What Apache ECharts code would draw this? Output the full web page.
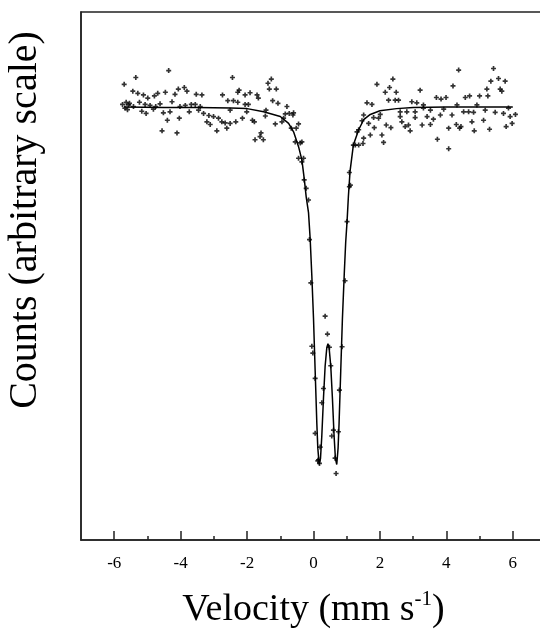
<!DOCTYPE html>
<html lang="en">
  <head>
    <meta charset="utf-8">
    <title>Velocity spectrum</title>
    <script src="https://cdn.jsdelivr.net/npm/echarts@6/dist/echarts.min.js"></script>
    <style>
      html, body { margin: 0; padding: 0; background: #fff; }
      #chart { width: 540px; height: 629px; }
    </style>
  </head>
  <body>
    <div id="chart"></div>

    <script>
      // tick labels on the velocity axis
      var majorTicks = [-6, -4, -2, 0, 2, 4, 6];
      var minorTicks = [-5, -3, -1, 1, 3, 5];

      // measured counts, [velocity, counts]
      var measuredLeft = [
        [-5.75,82.5],[-5.70,86.3],[-5.68,81.8],[-5.64,82.9],[-5.60,81.5],[-5.57,82.4],[-5.54,82.7],
        [-5.44,85.0],[-5.42,82.1],[-5.35,87.6],[-5.29,84.6],[-5.24,82.9],[-5.17,81.2],[-5.12,84.3],
        [-5.07,82.5],[-5.04,80.8],[-4.99,83.7],[-4.92,82.3],[-4.82,81.6],[-4.79,84.1],[-4.75,82.1],
        [-4.69,84.6],[-4.62,82.6],[-4.56,77.5],[-4.52,80.9],[-4.46,84.8],[-4.40,79.5],[-4.36,88.9],
        [-4.32,81.1],[-4.26,83.0],[-4.17,84.4],[-4.11,77.1],[-4.07,85.4],[-4.04,79.9],[-4.02,82.1],
        [-3.89,85.7],[-3.86,82.3],[-3.81,85.0],[-3.74,81.1],[-3.68,82.5],[-3.56,82.5],[-3.53,84.4],
        [-3.46,81.4],[-3.41,82.1],[-3.36,84.3],[-3.31,80.8],[-3.21,79.2],[-3.15,80.4],[-3.11,78.7],
        [-3.01,80.2],[-2.91,77.5]
      ];
      var measuredShoulder = [
        [-2.86,79.9],[-2.76,79.2],[-2.74,84.3],[-2.66,79.0],[-2.61,78.0],[-2.58,83.2],[-2.51,81.4],
        [-2.51,78.9],[-2.44,87.6],[-2.41,83.2],[-2.34,79.2],[-2.28,84.8],[-2.28,82.9],[-2.24,85.2],
        [-2.14,79.9],[-2.06,84.3],[-2.06,82.5],[-2.01,81.1],[-1.96,82.5],[-1.91,84.7],[-1.84,79.5],
        [-1.78,79.2],[-1.76,75.8],[-1.70,84.3],[-1.66,83.7],[-1.61,76.4],[-1.58,77.1],[-1.51,75.8],
        [-1.45,80.3],[-1.43,81.4],[-1.37,86.5],[-1.33,85.4],[-1.27,87.3],[-1.23,83.2],[-1.15,78.8],
        [-1.12,85.4],[-1.07,82.7],[-0.95,79.2],[-0.90,79.9],[-0.85,80.7],[-0.80,82.1],[-0.73,80.8],
        [-0.67,78.0],[-0.62,80.5],[-0.60,80.9],[-0.55,75.4],[-0.52,78.0],[-0.45,78.8],[-0.35,75.4]
      ];
      var measuredDip = [
        [-0.40,75.2],[-0.45,72.3],[-0.30,72.3],[-0.35,71.6],[-0.28,68.2],[-0.22,66.6],[-0.15,64.4],
        [-0.12,56.9],[-0.08,48.7],[-0.05,36.7],[-0.02,35.4],[0.05,30.6],[0.05,20.2],[0.13,15.0],
        [0.15,15.2],[0.18,14.5],[0.20,17.6],[0.25,26.0],[0.30,28.7],[0.35,42.4],[0.42,39.0],
        [0.48,36.5],[0.52,33.0],[0.55,19.7],[0.60,20.8],[0.65,15.5],[0.68,12.6],[0.75,20.5],
        [0.78,28.4],[0.86,36.6],[0.95,49.1],[1.01,60.3],[1.08,66.9],[1.08,69.6],[1.11,67.2],
        [1.20,74.8],[1.26,74.8],[1.36,74.8]
      ];
      var measuredRight = [
        [1.31,77.3],[1.36,77.7],[1.46,79.4],[1.49,75.1],[1.51,80.5],[1.51,76.1],[1.61,82.8],
        [1.66,78.9],[1.71,76.7],[1.76,82.5],[1.81,80.0],[1.83,78.1],[1.91,86.3],[1.96,79.9],
        [2.01,80.6],[2.06,76.7],[2.11,75.3],[2.16,84.8],[2.19,78.6],[2.26,83.3],[2.29,85.7],
        [2.33,78.1],[2.39,87.3],[2.46,83.3],[2.49,84.8],[2.56,83.3],[2.61,80.2],[2.61,81.1],
        [2.66,79.2],[2.76,78.3],[2.81,81.1],[2.86,78.6],[2.91,77.5],[2.96,83.0],[3.06,81.1],
        [3.06,80.0],[3.11,82.8],[3.21,85.2],[3.27,78.6],[3.31,82.4],[3.31,81.8],[3.42,80.2],
        [3.52,81.4],[3.52,78.7],[3.61,79.7],[3.70,83.8],[3.73,75.9],[3.82,80.5],[3.84,83.5],
        [3.92,81.6],[3.99,83.8],[4.07,78.0],[4.07,74.1],[4.17,80.5],[4.20,86.0],[4.30,78.7],
        [4.32,82.4],[4.37,89.0],[4.40,78.0],[4.44,78.3],[4.52,81.1],[4.57,83.8],[4.67,81.1],
        [4.70,84.1],[4.77,79.2],[4.82,81.0],[4.84,77.5],[4.92,82.4],[5.00,84.1],[5.12,79.5],
        [5.17,81.4],[5.22,85.4],[5.25,84.1],[5.30,77.8],[5.34,86.9],[5.42,89.3],[5.47,81.0],
        [5.57,87.4],[5.62,85.4],[5.67,85.0],[5.72,80.8],[5.77,86.9],[5.80,78.3],[5.87,81.8],
        [5.92,80.2],[5.98,78.9],[6.08,80.6]
      ];

      // fitted curve, [velocity, counts]
      var fitted = [
        [-5.7,82.0],[-4.5,81.9],[-3.5,81.9],[-2.5,81.8],[-2.0,81.7],[-1.5,81.1],[-1.0,80.2],
        [-0.75,78.9],[-0.6,77.3],[-0.45,74.5],[-0.35,72.0],[-0.28,68.5],[-0.22,65.0],[-0.15,62.0],
        [-0.1,57.0],[-0.05,50.0],[0,42.0],[0.05,32.0],[0.1,22.1],[0.13,17.4],[0.17,14.3],
        [0.21,15.4],[0.25,19.7],[0.3,26.8],[0.35,32.9],[0.4,36.4],[0.435,37.2],[0.47,36.4],
        [0.52,32.9],[0.57,26.8],[0.62,19.7],[0.66,15.4],[0.7,14.3],[0.74,17.4],[0.77,22.1],
        [0.82,32.0],[0.87,41.8],[0.93,51.0],[0.97,56.5],[1.01,60.3],[1.05,65.0],[1.1,69.8],
        [1.2,74.8],[1.36,77.7],[1.51,79.6],[1.71,80.6],[2.0,81.3],[2.5,81.7],[3.0,81.9],
        [4.0,82.0],[5.0,82.0],[6.0,82.0]
      ];

      var measured = measuredLeft.concat(measuredShoulder, measuredDip, measuredRight);

      var serif = "'Liberation Serif', 'DejaVu Serif', serif";
      var plus = 'path://M2,0H4V2H6V4H4V6H2V4H0V2H2Z';

      var myChart = echarts.init(document.getElementById('chart'));
      myChart.setOption({
        animation: false,
        backgroundColor: '#fff',
        grid: {
          left: 81, top: 12, width: 465, height: 528,
          outerBoundsMode: 'none', containLabel: false,
          show: true, borderColor: '#222', borderWidth: 1.5
        },
        xAxis: [{
          type: 'value',
          min: -7, max: 7,
          position: 'bottom',
          axisLine: { show: true, onZero: false, lineStyle: { color: '#222', width: 1.5 } },
          axisTick: { show: true, inside: true, length: 9, customValues: majorTicks,
                      lineStyle: { color: '#222', width: 1.5 } },
          axisLabel: { customValues: majorTicks, color: '#000', fontFamily: serif,
                       fontSize: 17, margin: 15 },
          splitLine: { show: false },
          name: '{t|Velocity (mm s}{s|-1}{t|)}',
          nameLocation: 'middle',
          nameGap: 49,
          nameTextStyle: {
            rich: {
              t: { fontFamily: serif, fontSize: 38, color: '#000', lineHeight: 42 },
              s: { fontFamily: serif, fontSize: 21, color: '#000', lineHeight: 28, verticalAlign: 'top' }
            }
          }
        }, {
          type: 'value',
          min: -7, max: 7,
          position: 'bottom',
          axisLine: { show: false, onZero: false },
          axisTick: { show: true, inside: true, length: 4, customValues: minorTicks,
                      lineStyle: { color: '#222', width: 1.5 } },
          axisLabel: { show: false },
          splitLine: { show: false }
        }],
        yAxis: {
          type: 'value',
          min: 0, max: 100,
          axisLine: { show: true, onZero: false, lineStyle: { color: '#222', width: 1.5 } },
          axisTick: { show: false },
          axisLabel: { show: false },
          splitLine: { show: false },
          name: 'Counts (arbitrary scale)',
          nameLocation: 'middle',
          nameGap: 36,
          nameTextStyle: { fontFamily: serif, fontSize: 40, color: '#000',
                           padding: [0, 0, 0, 112] }
        },
        series: [{
          type: 'line',
          data: fitted,
          showSymbol: false,
          lineStyle: { color: '#000', width: 1.5 },
          z: 2
        }, {
          type: 'scatter',
          data: measured,
          symbol: plus,
          symbolSize: 5,
          itemStyle: { color: '#000' },
          z: 3
        }]
      });
    </script>
  </body>
</html>
